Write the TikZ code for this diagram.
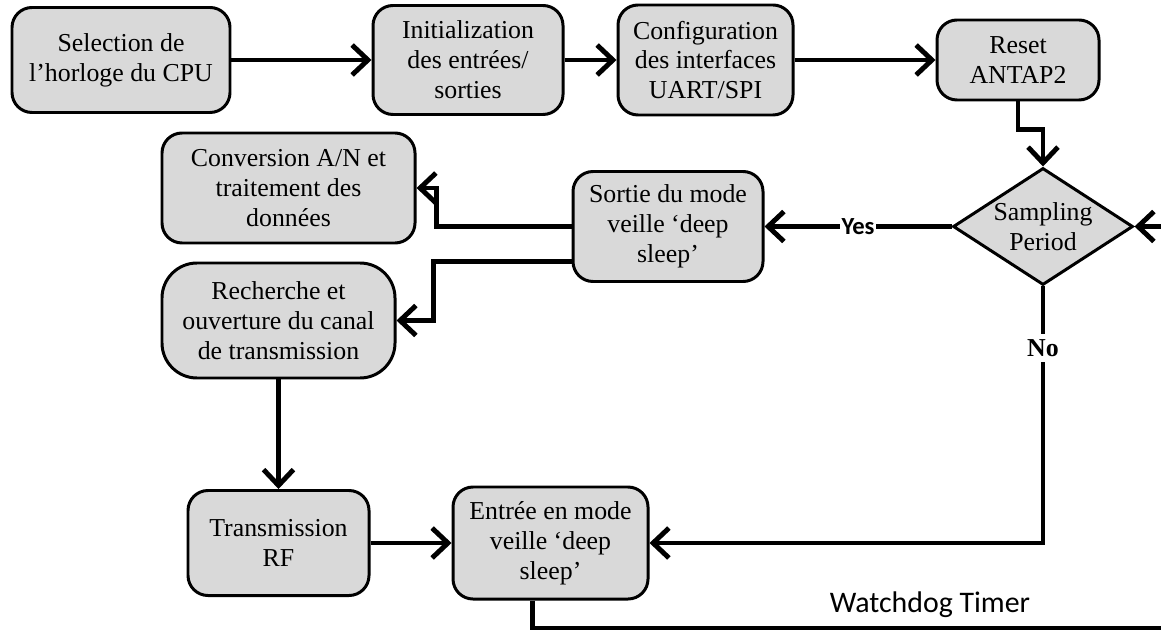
\documentclass[tikz,border=0pt]{standalone}
\usepackage{fontspec}
\setmainfont{Liberation Serif}
\newfontfamily\calibri{Carlito}
\usetikzlibrary{shapes.geometric,arrows.meta}
\definecolor{boxgray}{RGB}{217,217,217}
\tikzstyle{bag} = [draw, line width=1.7pt, fill=boxgray, rounded corners=0.4cm, align=center, inner sep=2pt, font=\fontsize{14.7}{17}\selectfont]
\tikzstyle{dec} = [draw, diamond, line width=1.7pt, fill=boxgray, aspect=1.54, inner sep=0pt, minimum width=3.6cm, minimum height=2.34cm, align=center, font=\fontsize{14.7}{17}\selectfont]
\tikzstyle{line} = [line width=2.8pt, -{Straight Barb[length=9pt,width=17pt]}]
\tikzstyle{yes} = [fill=white, inner sep=1pt, font=\calibri\bfseries\fontsize{14}{16}\selectfont]
\tikzstyle{no} = [fill=white, inner sep=3pt, font=\bfseries\fontsize{14.7}{17}\selectfont]

\begin{document}
\begin{tikzpicture}
  \useasboundingbox (0,0) rectangle (23.22,-12.62);
  \node (a) at (2.42,-1.2) [bag, minimum width=4.36cm, minimum height=2.1cm] {Selection de\\l’horloge du CPU};
  \node (b) at (9.36,-1.2) [bag, minimum width=3.8cm, minimum height=2.18cm] {Initialization\\des entrées/\\sorties};
  \node (c) at (14.11,-1.2) [bag, minimum width=3.5cm, minimum height=2.2cm] {Configuration\\des interfaces\\UART/SPI};
  \node (d) at (20.36,-1.2) [bag, minimum width=3.24cm, minimum height=1.6cm] {Reset\\ANTAP2};
  \node (e) at (20.86,-4.53) [dec] {Sampling\\Period};
  \node (f) at (13.36,-4.53) [bag, minimum width=3.8cm, minimum height=2.2cm] {Sortie du mode\\veille ‘deep\\sleep’};
  \node (g) at (5.77,-3.76) [bag, minimum width=5.06cm, minimum height=2.2cm] {Conversion A/N et\\traitement des\\données};
  \node (h) at (5.57,-6.41) [bag, rounded corners=0.7cm, minimum width=4.66cm, minimum height=2.3cm] {Recherche et\\ouverture du canal\\de transmission};
  \node (i) at (5.57,-10.86) [bag, minimum width=3.62cm, minimum height=2.1cm] {Transmission\\RF};
  \node (j) at (11.01,-10.86) [bag, minimum width=3.9cm, minimum height=2.24cm] {Entrée en mode\\veille ‘deep\\sleep’};
  \node (m) at (18.6,-12.1) [font=\calibri\fontsize{17}{20}\selectfont] {Watchdog Timer};
  \coordinate (k) at (23.22,-12.56);
  \coordinate (l) at (23.22,-4.53);
  \draw [line] (a) -- (b);
  \draw [line] (b) -- (c);
  \draw [line] (c) -- (d);
  \draw [line] (d.south) -- ++(0,-0.56) -| (e.north);
  \draw [line] (e) -- node [yes] {Yes} (f);
  \draw [line] (f.west) -- ++(-2.7,0) |- (g.east);
  \draw [line] ([yshift=-0.7cm]f.west) -- ++(-2.76,0) |- (h.east);
  \draw [line] (h) -- (i);
  \draw [line] (i) -- (j);
  \draw [line] (e.south) |- node [pos=0.12, no] {No} (j.east);
  \draw [line, -] ([xshift=-0.36cm]j.south) |- (k);
  \draw [line] (l) -- (e.east);
\end{tikzpicture}
\end{document}
